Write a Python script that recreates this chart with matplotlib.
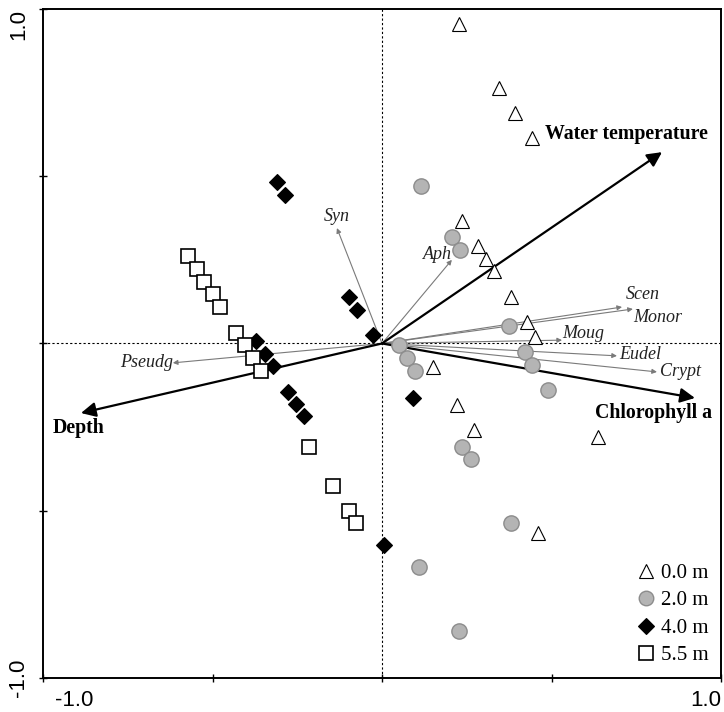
import matplotlib
matplotlib.use("Agg")
import matplotlib.pyplot as plt
import matplotlib.transforms as mtransforms

# ── sample scores (0.0 / 2.0 / 4.0 / 5.5 m) ─────────────────────────
tri_x = [0.227, 0.345, 0.392, 0.442, 0.236, 0.283, 0.307, 0.330, 0.381, 0.428,
         0.451, 0.150, 0.221, 0.271, 0.637, 0.460]
tri_y = [0.955, 0.764, 0.690, 0.615, 0.366, 0.291, 0.252, 0.217, 0.139, 0.064,
         0.019, -0.070, -0.184, -0.258, -0.279, -0.566]

cir_x = [0.115, 0.206, 0.230, 0.375, 0.050, 0.074, 0.097, 0.422, 0.442, 0.490,
         0.236, 0.263, 0.381, 0.109, 0.227]
cir_y = [0.471, 0.318, 0.280, 0.052, -0.004, -0.043, -0.082, -0.025, -0.064,
         -0.139, -0.309, -0.345, -0.537, -0.668, -0.859]

dia_x = [-0.310, -0.286, -0.097, -0.074, -0.027, -0.372, -0.345, -0.322, -0.277,
         -0.254, -0.230, 0.091, 0.006]
dia_y = [0.483, 0.444, 0.139, 0.100, 0.025, 0.007, -0.031, -0.067, -0.145,
         -0.181, -0.217, -0.163, -0.602]

sq_x = [-0.572, -0.546, -0.525, -0.499, -0.478, -0.431, -0.404, -0.381, -0.357,
        -0.215, -0.145, -0.097, -0.077]
sq_y = [0.262, 0.223, 0.184, 0.148, 0.109, 0.031, -0.004, -0.043, -0.082,
        -0.309, -0.426, -0.501, -0.537]

depth_labels = ["0.0 m", "2.0 m", "4.0 m", "5.5 m"]

# ── environmental arrows ────────────────────────────────────────────
env_names = ["Water temperature", "Chlorophyll a", "Depth"]
env_x = [0.826, 0.923, -0.888]
env_y = [0.572, -0.163, -0.208]

# ── species arrows ──────────────────────────────────────────────────
sp_names = ["Syn", "Aph", "Scen", "Monor", "Moug", "Eudel", "Crypt", "Pseudg"]
sp_x = [-0.133, 0.206, 0.708, 0.740, 0.531, 0.693, 0.811, -0.617]
sp_y = [0.345, 0.250, 0.109, 0.103, 0.010, -0.037, -0.085, -0.058]

SERIF = "Liberation Serif"
SANS = "Liberation Sans"

fig = plt.figure(figsize=(7.24, 7.12), dpi=100)
ax = fig.add_axes([0.0594, 0.0478, 0.9365, 0.9396])
ax.set_xlim(-1, 1)
ax.set_ylim(-1, 1)

ax.axhline(0, color="black", lw=0.8, ls=(0, (2, 2)), zorder=1)
ax.axvline(0, color="black", lw=0.8, ls=(0, (2, 2)), zorder=1)

# species arrows (thin grey)
for x, y in zip(sp_x, sp_y):
    ax.annotate("", xy=(x, y), xytext=(0, 0),
                arrowprops=dict(arrowstyle="-|>", color="#7a7a7a", lw=0.8,
                                mutation_scale=7, shrinkA=0, shrinkB=0),
                zorder=2)

sp_lab = {"Syn": (-0.133, 0.381), "Aph": (0.165, 0.265), "Scen": (0.770, 0.145),
          "Monor": (0.814, 0.079), "Moug": (0.593, 0.031), "Eudel": (0.761, -0.034),
          "Crypt": (0.879, -0.085), "Pseudg": (-0.693, -0.058)}
for name in sp_names:
    lx, ly = sp_lab[name]
    ax.text(lx, ly, name, fontsize=13, fontfamily=SERIF, fontstyle="italic",
            color="#222222", ha="center", va="center", zorder=4)

# environmental arrows (bold black)
for x, y in zip(env_x, env_y):
    ax.annotate("", xy=(x, y), xytext=(0, 0),
                arrowprops=dict(arrowstyle="-|>", color="black", lw=1.6,
                                mutation_scale=22, shrinkA=0, shrinkB=0),
                zorder=3)

env_lab = [(0.481, 0.626), (0.628, -0.208), (-0.971, -0.253)]
for name, (lx, ly) in zip(env_names, env_lab):
    ax.text(lx, ly, name, fontsize=14.3, fontfamily=SERIF, fontweight="bold",
            color="black", ha="left", va="center", zorder=4)

# sample points
ax.plot(tri_x, tri_y, ls="none", marker="^", ms=10, mfc="white", mec="black",
        mew=0.8, label=depth_labels[0], zorder=5)
ax.plot(cir_x, cir_y, ls="none", marker="o", ms=11, mfc="#b4b4b4", mec="#8c8c8c",
        mew=1.0, label=depth_labels[1], zorder=5)
ax.plot(dia_x, dia_y, ls="none", marker="D", ms=8.5, mfc="black", mec="black",
        mew=0.8, label=depth_labels[2], zorder=5)
ax.plot(sq_x, sq_y, ls="none", marker="s", ms=10, mfc="white", mec="black",
        mew=1.2, label=depth_labels[3], zorder=5)

leg = ax.legend(loc="lower right", frameon=False, prop=dict(family=SERIF, size=15),
                handletextpad=0.15, handlelength=1.1, labelspacing=0.38,
                borderaxespad=0.2, markerscale=0.95)

# axes / ticks
ax.set_xticks([-1, -0.5, 0, 0.5, 1])
ax.set_yticks([-1, -0.5, 0, 0.5, 1])
ax.set_xticklabels(["-1.0", "", "", "", "1.0"], fontfamily=SANS, fontsize=16)
ax.set_yticklabels(["-1.0", "", "", "", "1.0"], fontfamily=SANS, fontsize=16,
                   rotation=90)
ax.tick_params(direction="inout", length=6, width=1.0, pad=7)
ax.tick_params(axis="x", pad=6)

xl = ax.get_xticklabels()
xl[0].set_ha("left")
xl[0].set_transform(xl[0].get_transform() +
                    mtransforms.ScaledTranslation(12 / 100, 0, fig.dpi_scale_trans))
xl[-1].set_ha("right")
yl = ax.get_yticklabels()
yl[0].set_va("center")
yl[-1].set_va("top")

for s in ax.spines.values():
    s.set_linewidth(1.4)

fig.savefig("out.png", dpi=100, facecolor="white")
